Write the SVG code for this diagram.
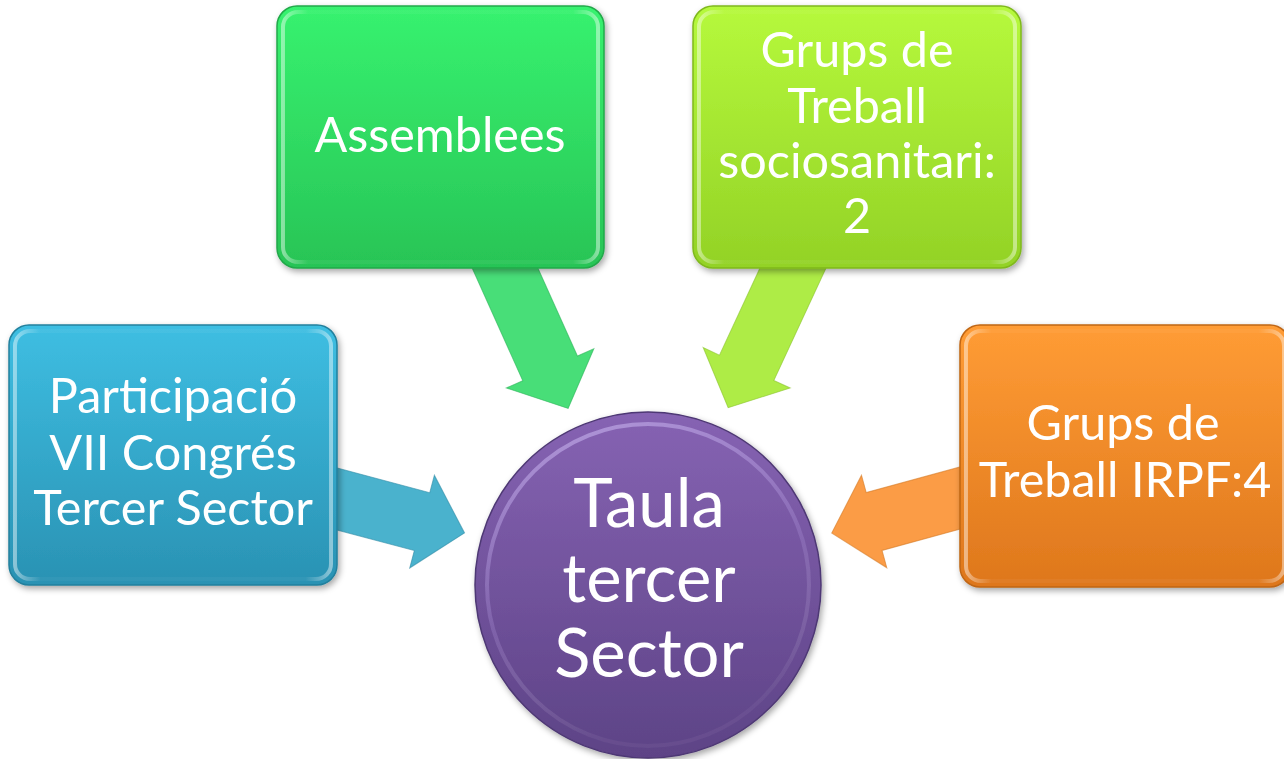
<svg xmlns="http://www.w3.org/2000/svg" width="1284" height="759" viewBox="0 0 1284 759">
<style>
.t{font-family:"Lato","Liberation Sans",sans-serif;fill:#fff;text-anchor:middle}
.bt{font-size:48.5px}
.ct{font-size:67px}
.rim{fill:none;stroke:url(#rimG);stroke-width:4}
.arr{stroke-width:1;stroke-opacity:0.6}
</style>
<defs>
<filter id="sh" x="-10%" y="-10%" width="125%" height="125%">
<feDropShadow dx="2" dy="3" stdDeviation="3" flood-color="#000" flood-opacity="0.35"/>
</filter>
<linearGradient id="gG" x1="0" y1="0" x2="0" y2="1"><stop offset="0" stop-color="#37F26F"/><stop offset="1" stop-color="#28C456"/></linearGradient>
<linearGradient id="gL" x1="0" y1="0" x2="0" y2="1"><stop offset="0" stop-color="#B6F93C"/><stop offset="1" stop-color="#93D226"/></linearGradient>
<linearGradient id="gB" x1="0" y1="0" x2="0" y2="1"><stop offset="0" stop-color="#3EBEE2"/><stop offset="1" stop-color="#2A92B3"/></linearGradient>
<linearGradient id="gO" x1="0" y1="0" x2="0" y2="1"><stop offset="0" stop-color="#FF9C35"/><stop offset="1" stop-color="#DE771C"/></linearGradient>
<linearGradient id="gP" x1="0" y1="0" x2="0" y2="1"><stop offset="0" stop-color="#8663B3"/><stop offset="1" stop-color="#5D4386"/></linearGradient>
<linearGradient id="rimG" x1="0" y1="0" x2="1" y2="0"><stop offset="0" stop-color="#fff" stop-opacity="0.45"/><stop offset="0.08" stop-color="#fff" stop-opacity="0.04"/><stop offset="0.92" stop-color="#fff" stop-opacity="0.04"/><stop offset="1" stop-color="#fff" stop-opacity="0.45"/></linearGradient>
<linearGradient id="rimC" x1="0" y1="0" x2="0.3" y2="1"><stop offset="0" stop-color="#c8b4ee" stop-opacity="0.7"/><stop offset="0.6" stop-color="#b49ae0" stop-opacity="0.25"/><stop offset="1" stop-color="#fff" stop-opacity="0.05"/></linearGradient>
</defs>

<g id="connectors">
<polygon class="arr" fill="#4AB2CD" stroke="#2E8AA5" transform="translate(337,499) rotate(14.9)" points="-30,-30 88,-30 88,-48 132,0 88,48 88,30 -30,30"/>
<polygon class="arr" fill="#48DE78" stroke="#2AB257" transform="translate(505,268) rotate(65.8)" points="-30,-30 110,-30 110,-48 154,0 110,48 110,30 -30,30"/>
<polygon class="arr" fill="#AEEC46" stroke="#88C22C" transform="translate(793,268) rotate(114.9)" points="-30,-30 110,-30 110,-48 154,0 110,48 110,30 -30,30"/>
<polygon class="arr" fill="#FB9C46" stroke="#D47A24" transform="translate(960,498) rotate(164.7)" points="-30,-30 89,-30 89,-48 133,0 89,48 89,30 -30,30"/>
</g>

<g id="node-assemblees" filter="url(#sh)">
<rect x="277" y="6" width="327" height="262" rx="20" fill="url(#gG)" stroke="#22A84A" stroke-width="1.5"/>
<rect x="283" y="12" width="315" height="250" rx="15" class="rim"/>
<text class="t bt" x="440" y="152">Assemblees</text>
</g>

<g id="node-grups-socio" filter="url(#sh)">
<rect x="693" y="6" width="328" height="262" rx="20" fill="url(#gL)" stroke="#7FB81E" stroke-width="1.5"/>
<rect x="699" y="12" width="316" height="250" rx="15" class="rim"/>
<text class="t bt" x="857" y="67">Grups de</text>
<text class="t bt" x="857" y="123">Treball</text>
<text class="t bt" x="857" y="178">sociosanitari:</text>
<text class="t bt" x="857" y="233">2</text>
</g>

<g id="node-participacio" filter="url(#sh)">
<rect x="9" y="325" width="328" height="260" rx="20" fill="url(#gB)" stroke="#23809D" stroke-width="1.5"/>
<rect x="15" y="331" width="316" height="248" rx="15" class="rim"/>
<text class="t bt" x="173" y="413">Participació</text>
<text class="t bt" x="173" y="470">VII Congrés</text>
<text class="t bt" x="173" y="525">Tercer Sector</text>
</g>

<g id="node-grups-irpf" filter="url(#sh)">
<rect x="960" y="325" width="330" height="262" rx="20" fill="url(#gO)" stroke="#BF6615" stroke-width="1.5"/>
<rect x="966" y="331" width="318" height="250" rx="15" class="rim"/>
<text class="t bt" x="1123" y="440">Grups de</text>
<text class="t bt" x="1125" y="497">Treball IRPF:4</text>
</g>

<g id="node-taula" filter="url(#sh)">
<circle cx="648" cy="585" r="173" fill="url(#gP)" stroke="#4E3874" stroke-width="1.5"/>
<circle cx="648" cy="585" r="161" fill="none" stroke="url(#rimC)" stroke-width="4"/>
<text class="t ct" x="649" y="527">Taula</text>
<text class="t ct" x="649" y="602">tercer</text>
<text class="t ct" x="649" y="677">Sector</text>
</g>
</svg>
